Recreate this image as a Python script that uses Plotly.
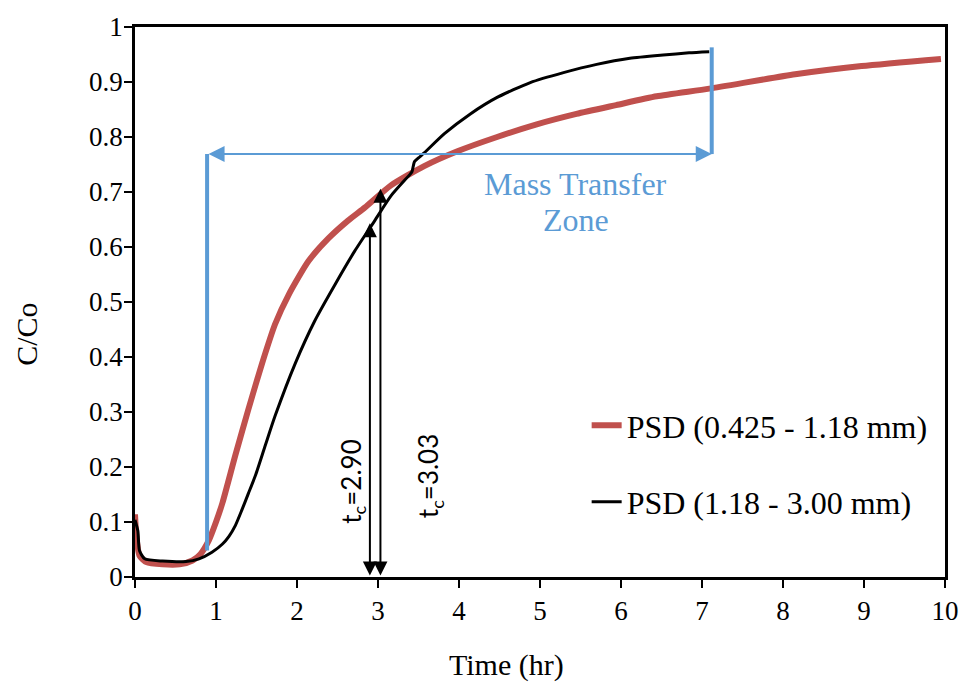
import plotly.graph_objects as go

# Breakthrough curves, C/Co against time (hr)
time_fine = [0, 0.015, 0.055, 0.14, 0.34, 0.55, 0.71, 0.81, 0.91, 1.0, 1.08, 1.24, 1.40,
             1.57, 1.73, 1.90, 2.14, 2.39, 2.63, 2.84, 3.16, 3.57, 3.98, 4.47, 4.96, 5.45,
             5.94, 6.44, 7.09, 8.15, 8.97, 9.95]
cc_fine = [0.114, 0.078, 0.039, 0.027, 0.023, 0.023, 0.030, 0.042, 0.066, 0.100, 0.135, 0.222,
           0.305, 0.389, 0.460, 0.514, 0.574, 0.616, 0.648, 0.672, 0.712, 0.747, 0.774, 0.800,
           0.823, 0.842, 0.858, 0.874, 0.888, 0.914, 0.929, 0.942]

time_coarse = [0, 0.035, 0.055, 0.12, 0.34, 0.63, 0.79, 0.95, 1.08, 1.16, 1.24, 1.32, 1.40,
               1.49, 1.61, 1.73, 1.98, 2.22, 2.47, 2.71, 2.96, 3.16, 3.40, 3.42, 3.45, 3.50,
               3.57, 3.82, 4.14, 4.47, 4.88, 5.29, 5.70, 6.11, 6.52, 6.84, 7.09]
cc_coarse = [0.104, 0.084, 0.048, 0.033, 0.029, 0.028, 0.033, 0.045, 0.060, 0.074, 0.094, 0.122,
             0.152, 0.186, 0.240, 0.293, 0.389, 0.466, 0.532, 0.592, 0.648, 0.693, 0.733, 0.737,
             0.755, 0.762, 0.771, 0.806, 0.842, 0.872, 0.899, 0.917, 0.932, 0.943, 0.949, 0.953,
             0.955]

series_names = ["PSD (0.425 - 1.18 mm)", "PSD (1.18 - 3.00 mm)"]

# Mass transfer zone bracket
mtz_start, mtz_end = 0.89, 7.12
mtz_level = 0.769
mtz_start_bottom = 0.048
mtz_end_top = 0.963

# Breakthrough times
tc_values = [2.90, 3.03]
tc_tips = [0.643, 0.706]
tc_label_x = [2.69, 3.64]
tc_label_y = [0.173, 0.183]

RED = "#C0504D"
BLUE = "#5B9BD5"
SERIF = "Liberation Serif"

W, H = 971, 690
L, R, T, B = 135, 20, 18, 113
pw, ph = W - L - R, H - T - B


def px_to_paper(px, py):
    return (px - L) / pw, (H - B - py) / ph


fig = go.Figure()
fig.add_trace(go.Scatter(x=time_fine, y=cc_fine, mode="lines", name=series_names[0],
                         legendgroup="fine",
                         line=dict(color=RED, width=6, shape="spline", smoothing=0.6)))
fig.add_trace(go.Scatter(x=time_coarse, y=cc_coarse, mode="lines", name=series_names[1],
                         legendgroup="coarse",
                         line=dict(color="black", width=3, shape="spline", smoothing=0.6)))

# Zone edges
fig.add_shape(type="line", xref="x", yref="y", x0=mtz_start, x1=mtz_start,
              y0=mtz_start_bottom, y1=mtz_level, line=dict(color=BLUE, width=4), layer="above")
fig.add_shape(type="line", xref="x", yref="y", x0=mtz_end, x1=mtz_end,
              y0=mtz_level, y1=mtz_end_top, line=dict(color=BLUE, width=4), layer="above")

# Double-headed arrow across the zone
fig.add_annotation(x=mtz_end, y=mtz_level, ax=mtz_start, ay=mtz_level,
                   xref="x", yref="y", axref="x", ayref="y", text="",
                   showarrow=True, arrowside="end+start", arrowhead=2, arrowsize=1.6,
                   arrowwidth=2, arrowcolor=BLUE, standoff=0, startstandoff=0)
fig.add_annotation(x=5.44, y=0.7145, xref="x", yref="y", text="Mass Transfer",
                   showarrow=False, xanchor="center", yanchor="middle",
                   font=dict(family=SERIF, size=32, color=BLUE))
fig.add_annotation(x=5.44, y=0.650, xref="x", yref="y", text="Zone",
                   showarrow=False, xanchor="center", yanchor="middle",
                   font=dict(family=SERIF, size=32, color=BLUE))

# Breakthrough-time arrows and labels
for tc, tip, lx, ly in zip(tc_values, tc_tips, tc_label_x, tc_label_y):
    fig.add_annotation(x=tc, y=tip, ax=tc, ay=0, xref="x", yref="y", axref="x", ayref="y",
                       text="", showarrow=True, arrowside="end+start", arrowhead=2,
                       arrowsize=1.4, arrowwidth=2, arrowcolor="black",
                       standoff=0, startstandoff=0)
    fig.add_annotation(x=lx, y=ly, xref="x", yref="y", text=f"t<sub>c</sub>={tc:.2f}",
                       textangle=-90, showarrow=False, xanchor="center", yanchor="middle",
                       font=dict(family="Lato", size=26, color="black"))

# Axis titles
tx, ty = px_to_paper(509, 666)
fig.add_annotation(x=tx, y=ty, xref="paper", yref="paper", text="Time (hr)",
                   showarrow=False, xanchor="center", yanchor="middle",
                   font=dict(family=SERIF, size=30, color="black"))
cx, cy = px_to_paper(26, 330)
fig.add_annotation(x=cx, y=cy, xref="paper", yref="paper", text="C/Co", textangle=-90,
                   showarrow=False, xanchor="center", yanchor="middle",
                   font=dict(family=SERIF, size=30, color="black"))

axis_common = dict(showline=True, linecolor="black", linewidth=2.5, mirror=True,
                   ticks="outside", ticklen=8, tickwidth=2, tickcolor="black",
                   showgrid=False, zeroline=False,
                   tickfont=dict(family=SERIF, size=27, color="black"))

fig.update_xaxes(range=[0, 10], tick0=0, dtick=1, **axis_common)
fig.update_yaxes(range=[0, 1], tick0=0, dtick=0.1, ticklabelstandoff=-4, **axis_common)

lx0, ly0 = px_to_paper(590, 395)
fig.update_layout(
    width=W, height=H,
    margin=dict(l=L, r=R, t=T, b=B, pad=0),
    paper_bgcolor="white", plot_bgcolor="white",
    showlegend=True,
    legend=dict(x=lx0, y=ly0, xanchor="left", yanchor="top",
                font=dict(family=SERIF, size=32, color="black"),
                bgcolor="rgba(0,0,0,0)", tracegroupgap=32, traceorder="grouped"),
)

fig.write_html("out.html")
